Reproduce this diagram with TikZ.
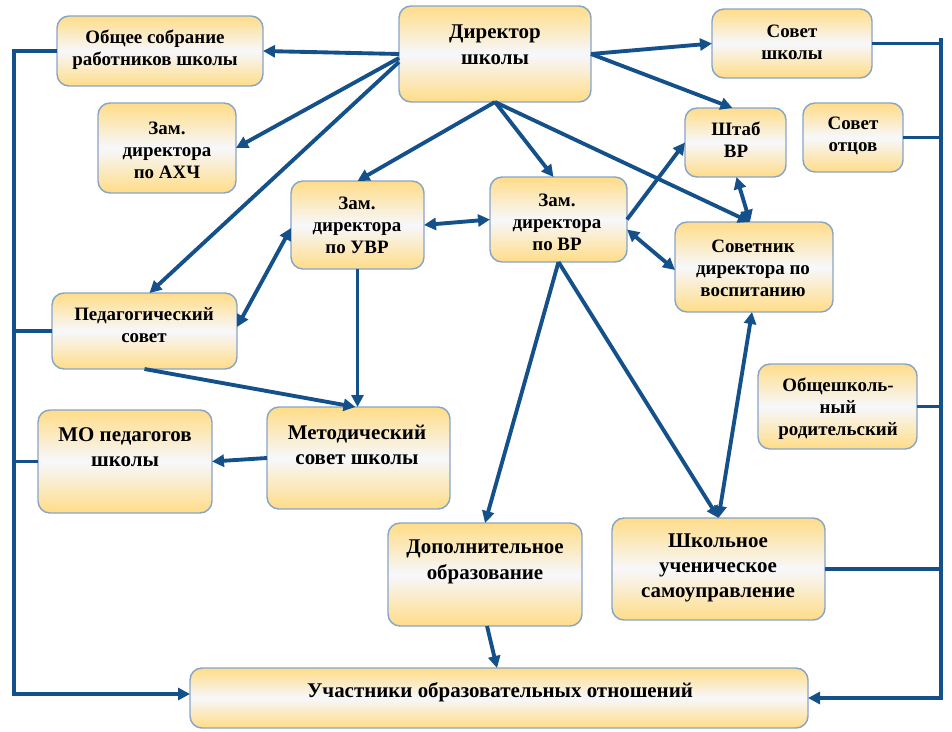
\documentclass[tikz,border=0pt]{standalone}
\usepackage{fontspec}
\setmainfont{Liberation Serif}
\usetikzlibrary{arrows.meta,calc}
\definecolor{ln}{RGB}{20,80,138}
\definecolor{bd}{RGB}{135,165,200}
\definecolor{by}{RGB}{255,220,135}
\definecolor{bw}{RGB}{247,248,252}
\tikzset{
 box/.style={draw=bd, line width=1.1pt, rounded corners=9pt, top color=by, bottom color=by, middle color=bw, inner sep=0pt, outer sep=0pt},
 wh/.style 2 args={minimum width=#1*0.75pt, minimum height=#2*0.75pt},
 sm/.style={align=center, inner sep=0pt, font=\bfseries\fontsize{14.2}{16.5}\selectfont},
 bg/.style={align=center, inner sep=0pt, font=\bfseries\fontsize{15.7}{19}\selectfont},
 con/.style={draw=ln, line width=2.9pt},
 ar/.style={con, -{Triangle[length=9pt,width=9pt]}},
 dar/.style={con, {Triangle[length=9pt,width=9pt]}-{Triangle[length=9pt,width=9pt]}},
}
\begin{document}
\begin{tikzpicture}[x=0.75pt,y=-0.75pt]
\useasboundingbox (0,0) rectangle (952,731);
% boxes
\node[box, wh={206}{70}]  (b1)  at (160,51) {};
\node[box, wh={192}{96}]  (b2)  at (495,54) {};
\node[box, wh={160}{69}]  (b3)  at (792,43.5) {};
\node[box, wh={138}{90}]  (b4)  at (167,148) {};
\node[box, wh={101}{69}]  (b5)  at (735.5,142.5) {};
\node[box, wh={100}{69}]  (b6)  at (853,137.5) {};
\node[box, wh={133}{88}]  (b7)  at (357.5,225) {};
\node[box, wh={137}{85}]  (b8)  at (558.5,219.5) {};
\node[box, wh={158}{90}]  (b9)  at (754,267) {};
\node[box, wh={185}{76}]  (b10) at (144.5,331) {};
\node[box, wh={159}{85}]  (b11) at (837.5,406.5) {};
\node[box, wh={174}{103}] (b12) at (125,461.5) {};
\node[box, wh={183}{102}] (b13) at (358.5,458) {};
\node[box, wh={194}{103}] (b14) at (485,574.5) {};
\node[box, wh={213}{102}] (b15) at (718.5,569) {};
\node[box, wh={618}{60}]  (b16) at (499,698) {};
% texts
\node[sm] (t1)  at (155,50)  {Общее собрание\\работников школы};
\node[bg, font=\bfseries\fontsize{15.7}{19.5}\selectfont] (t2) at (495,45) {Директор\\школы};
\node[sm] (t3)  at (792,42)  {Совет\\школы};
\node[sm] (t4)  at (167,150) {Зам.\\директора\\по АХЧ};
\node[sm] (t5)  at (736,140) {Штаб\\ВР};
\node[sm] (t6)  at (853,136) {Совет\\отцов};
\node[sm] (t7)  at (357,225) {Зам.\\директора\\по УВР};
\node[sm] (t8)  at (557,222) {Зам.\\директора\\по ВР};
\node[sm] (t9)  at (753,268) {Советник\\директора по\\воспитанию};
\node[sm] (t10) at (144,325) {Педагогический\\совет};
\node[sm] (t11) at (838,409) {Общешколь-\\ный\\родительский};
\node[bg] (t12) at (125,447) {МО педагогов\\школы};
\node[bg] (t13) at (357,445) {Методический\\совет школы};
\node[bg] (t14) at (485,562) {Дополнительное\\образование};
\node[bg] (t15) at (718,568) {Школьное\\ученическое\\самоуправление};
\node[bg] (t16) at (500,692) {Участники образовательных отношений};
% connectors
\draw[ar] (b2.west) -- (b1.east);
\draw[ar] ($(b2.west)+(0,4)$) -- (b4.east);
\draw[ar] ($(b2.west)+(0,8)$) -- ($(b10.north)+(5,0)$);
\draw[ar] (b2.south) -- (b7.north);
\draw[ar] (b2.south) -- ($(b8.north)+(-5,0)$);
\draw[ar] (b2.south) -- ($(b9.north)+(-4,0)$);
\draw[ar] (b2.east) -- (b3.west);
\draw[ar] (b2.east) -- ($(b5.north)+(-3,0)$);
\draw[dar] (b7.east) -- (b8.west);
\draw[dar] ($(b7.west)+(0,3)$) -- ($(b10.east)+(0,-4)$);
\draw[ar] (b8.east) -- (b5.west);
\draw[dar] ($(b8.east)+(0,10)$) -- ($(b9.west)+(0,3)$);
\draw[dar] ($(b5.south)+(1,0)$) -- ($(b9.north)+(-4,0)$);
\draw[ar] (b8.south) -- (b15.north);
\draw[dar] ($(b9.south)+(-2,0)$) -- (b15.north);
\draw[ar] (b8.south) -- (b14.north);
\draw[ar] (b7.south) -- (b7.south |- b13.north);
\draw[ar] (b10.south) -- ($(b13.north)+(-3,0)$);
\draw[ar] (b13.west) -- (b12.east);
\draw[ar] ($(b14.south)+(2,0)$) -- ($(b16.north)+(-2,0)$);
% left bus
\coordinate (ltop) at (14,51);
\coordinate (lbot) at (14,694);
\draw[ar] (b1.west) -- (ltop) -- (lbot) -- ($(b16.west)+(0,-4)$);
\draw[con] (b10.west) -- (b10.west -| ltop);
\draw[con] (b12.west) -- (b12.west -| ltop);
% right bus
\coordinate (rtop) at (941,38);
\coordinate (rbot) at (941,698);
\draw[ar] (rtop) -- (rbot) -- (b16.east |- rbot);
\draw[con] (b3.east) -- (b3.east -| rtop);
\draw[con] (b6.east) -- (b6.east -| rtop);
\draw[con] (b11.east) -- (b11.east -| rtop);
\draw[con] (b15.east) -- (b15.east -| rtop);
\end{tikzpicture}
\end{document}
